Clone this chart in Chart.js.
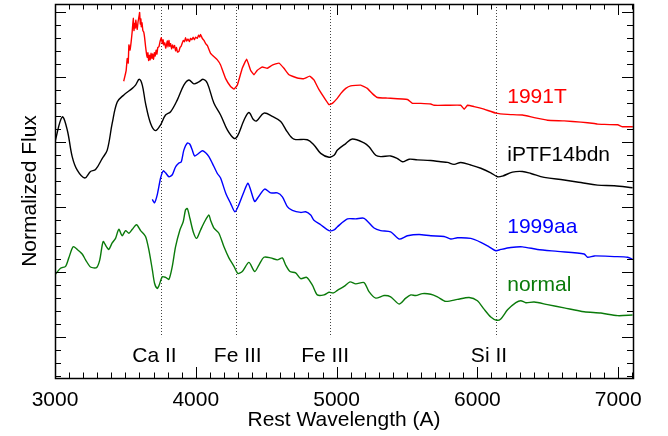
<!DOCTYPE html>
<html>
<head>
<meta charset="UTF-8">
<title>Spectra</title>
<script src="https://cdn.jsdelivr.net/npm/chart.js"></script>
<style>
  html, body { margin: 0; padding: 0; background: #fff; }
</style>
</head>
<body>
<canvas id="c" width="668" height="436"></canvas>
<script>
// 1991T
const wave91T = [3488,3505,3513,3520,3525,3533,3541,3548,3556,3561,3565,3570,3574,3579,3584,3590,3596,3601,3606,3610,3613,3618,3624,3630,3636,3643,3650,3655,3660,3665,3670,3676,3682,3688,3694,3700,3706,3712,3718,3724,3730,3738,3746,3755,3762,3768,3773,3780,3786,3792,3798,3803,3809,3815,3821,3828,3835,3841,3849,3856,3863,3870,3880,3888,3896,3904,3912,3920,3927,3935,3945,3955,3963,3972,3981,3990,3999,4010,4020,4028,4034,4046,4058,4070,4082,4105,4153,4176,4212,4247,4271,4295,4330,4361,4389,4413,4437,4472,4508,4543,4591,4626,4662,4721,4768,4809,4839,4875,4923,4946,4970,5006,5029,5065,5100,5171,5218,5254,5290,5361,5503,5539,5598,5669,5692,5787,5882,5906,5929,5976,6047,6131,6214,6320,6403,6498,6616,6735,6830,6853,6996,7031,7104];
const flux91T = [3.94,4.10,4.29,4.22,4.50,4.42,4.55,4.70,4.91,4.72,4.83,4.76,4.88,4.79,4.74,4.86,4.93,5.00,4.82,4.90,4.78,4.84,4.72,4.70,4.62,4.48,4.36,4.31,4.38,4.26,4.34,4.27,4.37,4.29,4.36,4.28,4.38,4.33,4.42,4.36,4.46,4.47,4.55,4.61,4.52,4.58,4.50,4.53,4.45,4.50,4.56,4.47,4.57,4.48,4.52,4.44,4.50,4.45,4.49,4.41,4.46,4.39,4.40,4.46,4.48,4.53,4.57,4.55,4.61,4.56,4.59,4.55,4.60,4.58,4.62,4.58,4.62,4.60,4.65,4.62,4.66,4.60,4.57,4.52,4.49,4.37,4.27,4.19,3.98,3.86,3.82,3.88,4.14,4.28,4.11,4.04,4.11,4.16,4.14,4.19,4.22,4.14,4.04,3.99,3.98,4.02,3.96,3.81,3.65,3.58,3.60,3.68,3.75,3.83,3.87,3.88,3.83,3.75,3.69,3.68,3.66,3.60,3.60,3.59,3.57,3.57,3.57,3.51,3.57,3.55,3.51,3.45,3.43,3.42,3.38,3.34,3.33,3.31,3.29,3.28,3.27,3.24,3.24];

// iPTF14bdn
const waveBdn = [3000,3051,3087,3122,3158,3212,3252,3288,3335,3371,3406,3442,3489,3549,3572,3598,3620,3643,3679,3714,3750,3785,3821,3868,3915,3951,3986,4022,4053,4082,4129,4176,4224,4271,4295,4342,4377,4409,4432,4484,4543,4603,4650,4697,4792,4839,4887,4946,4982,5006,5065,5112,5195,5230,5278,5313,5384,5432,5467,5515,5574,5669,5740,5787,5834,5882,5953,6024,6095,6143,6178,6249,6320,6380,6474,6616,6735,6853,6972,7102];
const fluxBdn = [3.01,3.39,3.19,2.78,2.57,2.45,2.55,2.58,2.75,2.88,3.29,3.62,3.73,3.83,3.88,3.97,3.88,3.60,3.29,3.18,3.27,3.42,3.47,3.65,3.88,3.96,3.90,3.93,3.97,3.91,3.60,3.42,3.19,3.06,3.09,3.34,3.46,3.35,3.33,3.45,3.40,3.32,3.16,3.05,3.04,2.96,2.83,2.77,2.80,2.88,2.98,3.05,2.99,2.93,2.80,2.78,2.79,2.75,2.70,2.74,2.73,2.72,2.70,2.69,2.66,2.69,2.65,2.60,2.53,2.47,2.48,2.54,2.55,2.52,2.46,2.42,2.38,2.34,2.33,2.30];

// 1999aa
const wave99aa = [3691,3707,3726,3750,3769,3785,3809,3833,3856,3880,3897,3915,3940,3958,3975,3991,4015,4046,4070,4093,4117,4153,4176,4212,4247,4278,4306,4342,4370,4389,4418,4448,4489,4532,4579,4615,4650,4686,4745,4780,4816,4839,4887,4946,4982,5006,5077,5136,5195,5266,5313,5384,5444,5503,5586,5669,5763,5811,5858,5953,6024,6083,6131,6166,6237,6320,6427,6569,6758,6782,6830,6972,7067,7102];
const flux99aa = [2.12,2.07,2.19,2.45,2.56,2.53,2.47,2.50,2.62,2.68,2.70,2.88,2.99,2.97,2.88,2.79,2.82,2.87,2.84,2.78,2.68,2.52,2.45,2.22,2.06,1.93,2.04,2.24,2.37,2.27,2.09,2.17,2.28,2.22,2.22,2.16,2.01,1.95,1.92,1.93,1.88,1.80,1.73,1.64,1.65,1.70,1.82,1.82,1.83,1.68,1.64,1.62,1.51,1.56,1.58,1.56,1.55,1.51,1.53,1.52,1.46,1.39,1.33,1.35,1.38,1.39,1.35,1.32,1.28,1.23,1.25,1.24,1.23,1.20];

// normal Ia
const waveNorm = [3000,3039,3075,3098,3129,3158,3193,3217,3252,3295,3318,3342,3366,3382,3406,3430,3453,3477,3501,3525,3549,3579,3608,3643,3667,3691,3707,3726,3738,3762,3785,3809,3833,3856,3887,3911,3927,3940,3958,3982,4006,4034,4063,4093,4105,4129,4164,4200,4235,4271,4299,4330,4377,4418,4448,4484,4532,4579,4615,4638,4669,4709,4745,4787,4828,4863,4911,4946,4977,5006,5053,5095,5136,5195,5230,5278,5337,5384,5444,5491,5527,5562,5610,5669,5716,5775,5858,5941,6000,6047,6095,6136,6166,6214,6273,6308,6344,6403,6498,6616,6758,6877,6996,7102];
const fluxNorm = [0.96,1.06,1.09,1.22,1.39,1.35,1.28,1.19,1.08,1.07,1.19,1.47,1.39,1.35,1.45,1.52,1.66,1.56,1.64,1.60,1.66,1.73,1.64,1.55,1.34,1.04,0.83,0.75,0.79,0.93,0.92,0.89,1.09,1.39,1.65,1.78,1.96,1.98,1.83,1.62,1.52,1.65,1.78,1.88,1.80,1.68,1.60,1.39,1.22,1.09,0.98,1.01,1.15,1.01,1.11,1.23,1.22,1.19,1.22,1.11,1.01,0.99,0.90,0.92,0.80,0.65,0.65,0.69,0.68,0.72,0.78,0.85,0.82,0.84,0.70,0.60,0.64,0.62,0.51,0.60,0.65,0.64,0.67,0.66,0.62,0.55,0.58,0.61,0.56,0.43,0.31,0.26,0.28,0.42,0.53,0.56,0.53,0.54,0.50,0.45,0.39,0.37,0.33,0.34];

// line identifications (rest wavelength of the marked absorption)
const lineWaves = [3755, 4285, 4955, 6130];
const lineNames = ['Ca II', 'Fe III', 'Fe III', 'Si II'];

const xTickValues = [3000, 4000, 5000, 6000, 7000];

const seriesNames = ['1991T', 'iPTF14bdn', '1999aa', 'normal'];
const seriesColors = ['#ff0000', '#000000', '#0000ff', '#0a7a0a'];

const FONT = "'Liberation Sans', Arial, Helvetica, sans-serif";
const FSIZE = 21;

function pairs(w, f) {
    return w.map((x, i) => ({ x: x, y: f[i] }));
}

// where the text annotations sit, in data units
const annot = {
    lineLabelWaves: [3706, 4298, 4918, 6082],
    lineLabelFlux: -0.30,
    nameWave: 6212,
    nameFlux: [3.70, 2.80, 1.70, 0.80]
};

const decor = {
    id: 'decor',
    beforeDatasetsDraw(chart) {
        const { ctx, chartArea: a, scales: { x, y } } = chart;
        ctx.save();
        ctx.strokeStyle = '#444';
        ctx.lineWidth = 1;
        ctx.setLineDash([1, 2]);
        lineWaves.forEach(w => {
            const px = Math.round(x.getPixelForValue(w)) + 0.5;
            ctx.beginPath();
            ctx.moveTo(px, a.top);
            ctx.lineTo(px, y.getPixelForValue(0));
            ctx.stroke();
        });
        ctx.restore();
    },
    afterDatasetsDraw(chart) {
        const { ctx, chartArea: a, scales: { x, y } } = chart;
        ctx.save();
        ctx.strokeStyle = '#000';
        ctx.lineWidth = 1.5;
        ctx.strokeRect(a.left + 0.5, a.top + 0.5, a.right - a.left, a.bottom - a.top);

        // inward ticks on all four sides, minor every 100 A / 0.2
        ctx.lineWidth = 1;
        ctx.beginPath();
        for (let w = 3000; w <= 7100; w += 100) {
            const px = Math.round(x.getPixelForValue(w)) + 0.5;
            const len = w % 1000 === 0 ? 11 : 5.5;
            ctx.moveTo(px, a.bottom); ctx.lineTo(px, a.bottom - len);
            ctx.moveTo(px, a.top); ctx.lineTo(px, a.top + len);
        }
        for (let k = -3; k <= 25; k++) {
            const py = Math.round(y.getPixelForValue(k / 5)) + 0.5;
            const len = k % 5 === 0 ? 11 : 6;
            ctx.moveTo(a.left, py); ctx.lineTo(a.left + len, py);
            ctx.moveTo(a.right, py); ctx.lineTo(a.right - len, py);
        }
        ctx.stroke();

        ctx.font = FSIZE + 'px ' + FONT;
        ctx.textBaseline = 'middle';
        ctx.textAlign = 'center';
        ctx.fillStyle = '#000';
        lineNames.forEach((t, i) => {
            ctx.fillText(t, x.getPixelForValue(annot.lineLabelWaves[i]), y.getPixelForValue(annot.lineLabelFlux));
        });
        ctx.textAlign = 'left';
        seriesNames.forEach((t, i) => {
            ctx.fillStyle = seriesColors[i];
            ctx.fillText(t, x.getPixelForValue(annot.nameWave), y.getPixelForValue(annot.nameFlux[i]));
        });
        ctx.restore();
    }
};

const sets = [
    [wave91T, flux91T, 0.1],
    [waveBdn, fluxBdn, 0.35],
    [wave99aa, flux99aa, 0.25],
    [waveNorm, fluxNorm, 0.25]
].map((s, i) => ({
    label: seriesNames[i],
    data: pairs(s[0], s[1]),
    borderColor: seriesColors[i],
    borderWidth: 1.4,
    pointRadius: 0,
    tension: s[2],
    fill: false
}));

new Chart(document.getElementById('c'), {
    type: 'line',
    data: { datasets: sets },
    options: {
        responsive: false,
        animation: false,
        layout: { padding: { top: 4, right: 35, left: 0, bottom: 0 } },
        plugins: { legend: { display: false }, tooltip: { enabled: false } },
        scales: {
            x: {
                type: 'linear',
                min: 3000,
                max: 7105,
                grid: { display: false, drawTicks: false },
                border: { display: false },
                afterBuildTicks(s) {
                    s.ticks = xTickValues.map(v => ({ value: v }));
                },
                ticks: {
                    autoSkip: false,
                    maxRotation: 0,
                    padding: 9.4,
                    color: '#000',
                    font: { family: FONT, size: FSIZE },
                    callback: v => String(v)
                },
                title: {
                    display: true,
                    text: 'Rest Wavelength (A)',
                    color: '#000',
                    font: { family: FONT, size: FSIZE },
                    padding: { top: 0, bottom: 3.4 }
                },
                afterFit(s) { s.height = 58; }
            },
            y: {
                type: 'linear',
                min: -0.63,
                max: 5.13,
                grid: { display: false, drawTicks: false },
                border: { display: false },
                ticks: { display: false },
                title: {
                    display: true,
                    text: 'Normalized Flux',
                    color: '#000',
                    font: { family: FONT, size: FSIZE },
                    padding: { top: 17.4, bottom: 0 }
                },
                afterFit(s) { s.width = 55; }
            }
        }
    },
    plugins: [decor]
});
</script>
</body>
</html>
